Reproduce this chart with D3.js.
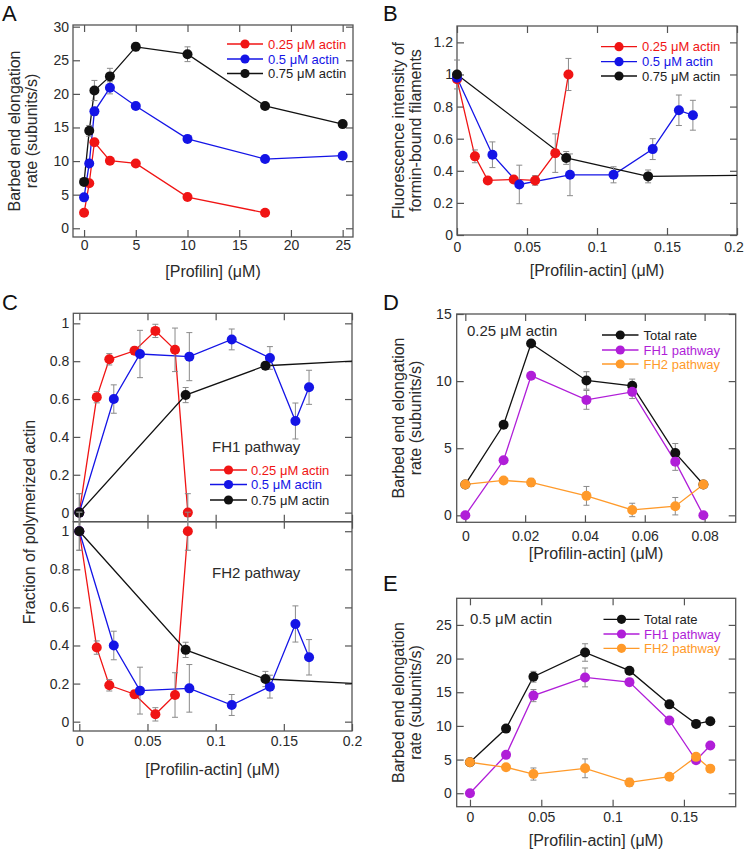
<!DOCTYPE html>
<html><head><meta charset="utf-8">
<script src="https://cdn.jsdelivr.net/npm/d3@7"></script>
<style>
body{margin:0;background:#fff}
svg{display:block}
text{font-family:"Liberation Sans",Arial,Helvetica,sans-serif}
</style>
</head><body>
<svg id="c" width="745" height="851"></svg>
<script>
// ---------------- DATA ----------------
const actinNames = ["0.25 \u03BCM actin", "0.5 \u03BCM actin", "0.75 \u03BCM actin"];
const pathwayNames = ["Total rate", "FH1 pathway", "FH2 pathway"];

// Panel A: rate vs [Profilin]
const aProfilin = [0, 0.5, 1, 2.5, 5, 10, 17.5, 25];
const aRate025 = [2.3, 6.7, 12.8, 10.05, 9.65, 4.65, 2.3];
const aErr025  = [0.2, 0.3, 0.3, 0.3, 0.3, 0.4, 0.2];
const aRate05  = [4.6, 9.65, 17.4, 20.9, 18.2, 13.3, 10.3, 10.8];
const aErr05   = [0.3, 0.4, 0.6, 0.9, 0.4, 0.4, 0.4, 0.3];
const aRate075 = [6.9, 14.5, 20.5, 22.6, 27.0, 25.9, 18.2, 15.5];
const aErr075  = [0.3, 0.8, 1.5, 1.2, 0.6, 1.1, 0.3, 0.5];

// [Profilin-actin] concentrations for each actin level
const pa025 = [0, 0.0128, 0.022, 0.0405, 0.0558, 0.0702, 0.0796];
const pa05  = [0, 0.0253, 0.0445, 0.0807, 0.1118, 0.1398, 0.1585, 0.1685];
const pa075 = [0, 0.078, 0.1365];
const paFitEnd = 0.2;

// Panel B: fluorescence intensity of formin-bound filaments
const bInt025 = [0.97, 0.49, 0.34, 0.346, 0.34, 0.51, 1.0];
const bErr025 = [0.02, 0.04, 0.02, 0.02, 0.03, 0.12, 0.1];
const bInt05  = [0.98, 0.50, 0.315, 0.375, 0.375, 0.535, 0.777, 0.746];
const bErr05  = [0.02, 0.08, 0.12, 0.13, 0.05, 0.065, 0.095, 0.093];
const bInt075 = [1.0, 0.48, 0.365];
const bErr075 = [0.09, 0.04, 0.04];
const bFit075End = 0.372;

// Panel C upper: FH1 pathway fraction
const cFH1_025 = [0, 0.61, 0.81, 0.855, 0.96, 0.86, 0];
const cFH1e025 = [0.1, 0.03, 0.03, 0.02, 0.035, 0.115, 0.1];
const cFH1_05  = [0, 0.60, 0.838, 0.824, 0.915, 0.817, 0.484, 0.662];
const cFH1e05  = [0, 0.075, 0.125, 0.127, 0.055, 0.06, 0.095, 0.09];
const cFH1_075 = [0, 0.621, 0.776];
const cFH1e075 = [0.1, 0.04, 0.02];
const cFH1Fit075End = 0.80;

// Panel C lower: FH2 pathway fraction
const cFH2_025 = [1, 0.389, 0.191, 0.144, 0.0385, 0.14, 1.0];
const cFH2e025 = [0.1, 0.035, 0.03, 0.02, 0.035, 0.117, 0.1];
const cFH2_05  = [1, 0.40, 0.163, 0.175, 0.0876, 0.184, 0.513, 0.338];
const cFH2e05  = [0, 0.075, 0.123, 0.125, 0.055, 0.06, 0.095, 0.093];
const cFH2_075 = [1, 0.377, 0.224];
const cFH2e075 = [0.1, 0.04, 0.04];
const cFH2Fit075End = 0.201;

// Panel D: 0.25 uM actin
const dTotal = [2.3, 6.75, 12.8, 10.05, 9.65, 4.65, 2.3];
const dTotalE = [0, 0, 0, 0.65, 0.5, 0.7, 0];
const dFH1 = [0, 4.1, 10.4, 8.6, 9.2, 4.0, 0];
const dFH1E = [0, 0, 0, 0.7, 0.5, 0.65, 0];
const dFH2 = [2.3, 2.6, 2.45, 1.45, 0.4, 0.68, 2.3];
const dFH2E = [0, 0, 0.3, 0.7, 0.5, 0.65, 0];

// Panel E: 0.5 uM actin
const eTotal = [4.6, 9.6, 17.3, 20.9, 18.2, 13.2, 10.3, 10.7];
const eTotalE = [0, 0, 0.8, 1.3, 0, 0, 0, 0];
const eFH1 = [0, 5.7, 14.5, 17.2, 16.5, 10.8, 4.9, 7.1];
const eFH1E = [0, 0, 0.9, 1.4, 0, 0, 0, 0];
const eFH2 = [4.6, 3.85, 2.85, 3.7, 1.6, 2.45, 5.4, 3.65];
const eFH2E = [0, 0, 0.9, 1.4, 0.6, 0, 0, 0];

// Tick values
const aXTicks = [0, 5, 10, 15, 20, 25];
const aYTicks = [0, 5, 10, 15, 20, 25, 30];
const bXTicks = [0, 0.05, 0.1, 0.15, 0.2];
const bYTicks = [0, 0.2, 0.4, 0.6, 0.8, 1, 1.2];
const cXTicks = [0, 0.05, 0.1, 0.15, 0.2];
const cYTicks = [0, 0.2, 0.4, 0.6, 0.8, 1];
const dXTicks = [0, 0.02, 0.04, 0.06, 0.08];
const dYTicks = [0, 5, 10, 15];
const eXTicks = [0, 0.05, 0.1, 0.15];
const eYTicks = [0, 5, 10, 15, 20, 25];

// ---------------- STYLE ----------------
const RED = "#f01414", BLUE = "#1414e6", BLACK = "#111111", MAG = "#b01ed8", ORA = "#ff9a2a";
const FRAME = "#555", ERR = "#8a8a8a", TXT = "#2a2a2a";
const svg = d3.select("#c");
const fmt = d3.format("~g");

function mk(xs, ys, es, color, fitX, fitY) {
  const pts = ys.map((v, i) => ({x: xs[i], y: v, e: es[i]}));
  return {pts, color, fit: fitX != null ? {x: fitX, y: fitY} : null};
}

function drawAxes(g, x, y, p) {
  const tl = 7;
  const style = sel => {
    sel.select(".domain").remove();
    sel.selectAll(".tick line").attr("stroke", FRAME).attr("stroke-width", 1.2);
    sel.selectAll("text").attr("font-size", 14).attr("fill", TXT)
      .attr("font-family", '"Liberation Sans",Arial,sans-serif');
    sel.attr("font-family", null).attr("font-size", null);
  };
  const xb = d3.axisBottom(x).tickValues(p.xt).tickSizeInner(-tl).tickSizeOuter(0)
    .tickPadding(p.xpad).tickFormat(p.xlab === false ? "" : fmt);
  const xbg = g.append("g").attr("transform", `translate(0,${p.B})`).call(xb).call(style);
  if (p.lastShift) {
    xbg.selectAll(".tick text").filter((d, i, n) => i === n.length - 1).attr("dx", p.lastShift);
  }
  const xtop = d3.axisTop(x).tickValues(p.xt).tickSizeInner(-tl).tickSizeOuter(0).tickFormat("");
  g.append("g").attr("transform", `translate(0,${p.T})`).call(xtop).call(style);
  const yl = d3.axisLeft(y).tickValues(p.yt).tickSizeInner(-tl).tickSizeOuter(0)
    .tickPadding(p.ypad).tickFormat(fmt);
  g.append("g").attr("transform", `translate(${p.L},0)`).call(yl).call(style);
  const yr = d3.axisRight(y).tickValues(p.yt).tickSizeInner(-tl).tickSizeOuter(0).tickFormat("");
  g.append("g").attr("transform", `translate(${p.R},0)`).call(yr).call(style);
  g.append("rect").attr("x", p.L).attr("y", p.T).attr("width", p.R - p.L).attr("height", p.B - p.T)
    .attr("fill", "none").attr("stroke", FRAME).attr("stroke-width", 1.3);
}

function drawSeries(g, x, y, series, r) {
  const line = d3.line().x(d => x(d.x)).y(d => y(d.y));
  series.forEach(s => {
    const linePts = s.fit ? s.pts.concat([s.fit]) : s.pts;
    g.append("path").attr("d", line(linePts)).attr("fill", "none")
      .attr("stroke", s.color).attr("stroke-width", 1.3);
  });
  series.forEach(s => {
    s.pts.filter(d => d.e > 0).forEach(d => {
      const eg = g.append("g").attr("stroke", ERR).attr("stroke-width", 1);
      eg.append("line").attr("x1", x(d.x)).attr("x2", x(d.x)).attr("y1", y(d.y - d.e)).attr("y2", y(d.y + d.e));
      eg.append("line").attr("x1", x(d.x) - 3).attr("x2", x(d.x) + 3).attr("y1", y(d.y - d.e)).attr("y2", y(d.y - d.e));
      eg.append("line").attr("x1", x(d.x) - 3).attr("x2", x(d.x) + 3).attr("y1", y(d.y + d.e)).attr("y2", y(d.y + d.e));
    });
  });
  series.forEach(s => {
    g.selectAll(null).data(s.pts).enter().append("circle")
      .attr("cx", d => x(d.x)).attr("cy", d => y(d.y)).attr("r", r).attr("fill", s.color);
  });
}

function legend(g, x0, x1, tx, ys, names, colors, tcolors, fs) {
  names.forEach((n, i) => {
    g.append("line").attr("x1", x0).attr("x2", x1).attr("y1", ys[i]).attr("y2", ys[i])
      .attr("stroke", colors[i]).attr("stroke-width", 1.3);
    g.append("circle").attr("cx", (x0 + x1) / 2).attr("cy", ys[i]).attr("r", 4.6).attr("fill", colors[i]);
    g.append("text").attr("x", tx).attr("y", ys[i] + fs * 0.36).attr("font-size", fs)
      .attr("fill", tcolors[i]).text(n);
  });
}

function ylabel(g, xs, cy, lines) {
  lines.forEach((t, i) => {
    g.append("text").attr("transform", `translate(${xs[i]},${cy}) rotate(-90)`)
      .attr("text-anchor", "middle").attr("font-size", 16).attr("fill", TXT).text(t);
  });
}
function xlabel(g, cx, y, t) {
  g.append("text").attr("x", cx).attr("y", y).attr("text-anchor", "middle")
    .attr("font-size", 16).attr("fill", TXT).text(t);
}
function letter(t, x, y) {
  svg.append("text").attr("x", x).attr("y", y).attr("font-size", 22).attr("fill", "#111").text(t);
}

const actinColors = [RED, BLUE, BLACK];
const actinText = [RED, BLUE, "#222"];
const pathColors = [BLACK, MAG, ORA];
const pathText = ["#222", MAG, ORA];

// ---------------- PANEL A ----------------
{
  const p = {L: 73, R: 353, T: 25, B: 237, xt: aXTicks, yt: aYTicks, xpad: 3, ypad: 4};
  const x = d3.scaleLinear().domain([-1.07, 26.0]).range([p.L, p.R]);
  const y = d3.scaleLinear().domain([-1.3, 30.25]).range([p.B, p.T]);
  const g = svg.append("g");
  drawAxes(g, x, y, p);
  drawSeries(g, x, y, [
    mk(aProfilin, aRate025, aErr025, RED),
    mk(aProfilin, aRate05, aErr05, BLUE),
    mk(aProfilin, aRate075, aErr075, BLACK)
  ], 5);
  legend(g, 227, 263, 268, [44, 59, 73.5], actinNames, actinColors, actinText, 13);
  ylabel(g, [20, 37], 131, ["Barbed end elongation", "rate (subunits/s)"]);
  xlabel(g, 213, 277, "[Profilin] (\u03BCM)");
  letter("A", 2, 20.5);
}

// ---------------- PANEL B ----------------
{
  const p = {L: 457, R: 737, T: 26, B: 235, xt: bXTicks, yt: bYTicks, xpad: 7, ypad: 4, lastShift: -3.5};
  const x = d3.scaleLinear().domain([0, 0.2]).range([p.L, p.R]);
  const y = d3.scaleLinear().domain([0, 1.302]).range([p.B, p.T]);
  const g = svg.append("g");
  drawAxes(g, x, y, p);
  drawSeries(g, x, y, [
    mk(pa025, bInt025, bErr025, RED),
    mk(pa05, bInt05, bErr05, BLUE),
    mk(pa075, bInt075, bErr075, BLACK, paFitEnd, bFit075End)
  ], 5);
  legend(g, 601, 637, 642, [46.7, 61.7, 76], actinNames, actinColors, actinText, 13);
  ylabel(g, [404, 421], 130.5, ["Fluorescence intensity of", "formin-bound filaments"]);
  xlabel(g, 597, 276, "[Profilin-actin] (\u03BCM)");
  letter("B", 383, 20.5);
}

// ---------------- PANEL C ----------------
{
  const xd = [-0.0044, 0.2];
  const up = {L: 73.3, R: 352, T: 313.3, B: 521.7, xt: cXTicks, yt: cYTicks, xpad: 5, ypad: 4, xlab: false};
  const lo = {L: 73.3, R: 352, T: 521.7, B: 731, xt: cXTicks, yt: cYTicks, xpad: 5, ypad: 4};
  const g = svg.append("g");
  const x = d3.scaleLinear().domain(xd).range([up.L, up.R]);
  const yU = d3.scaleLinear().domain([-0.048, 1.053]).range([up.B, up.T]);
  const yL = d3.scaleLinear().domain([-0.049, 1.05]).range([lo.B, lo.T]);
  drawAxes(g, x, yU, up);
  drawAxes(g, x, yL, lo);
  drawSeries(g, x, yU, [
    mk(pa025, cFH1_025, cFH1e025, RED),
    mk(pa05, cFH1_05, cFH1e05, BLUE),
    mk(pa075, cFH1_075, cFH1e075, BLACK, paFitEnd, cFH1Fit075End)
  ], 5);
  drawSeries(g, x, yL, [
    mk(pa025, cFH2_025, cFH2e025, RED),
    mk(pa05, cFH2_05, cFH2e05, BLUE),
    mk(pa075, cFH2_075, cFH2e075, BLACK, paFitEnd, cFH2Fit075End)
  ], 5);
  g.append("text").attr("x", 212).attr("y", 452).attr("font-size", 15).attr("fill", TXT).text("FH1 pathway");
  g.append("text").attr("x", 212).attr("y", 578).attr("font-size", 15).attr("fill", TXT).text("FH2 pathway");
  legend(g, 210, 247, 251, [470, 484.5, 500], actinNames, actinColors, actinText, 13);
  ylabel(g, [35], 522, ["Fraction of polymerized actin"]);
  xlabel(g, 212.5, 775, "[Profilin-actin] (\u03BCM)");
  letter("C", 2, 309.5);
}

// ---------------- PANEL D ----------------
{
  const p = {L: 456.7, R: 735.7, T: 314, B: 522.3, xt: dXTicks, yt: dYTicks, xpad: 9, ypad: 5};
  const x = d3.scaleLinear().domain([-0.00288, 0.0904]).range([p.L, p.R]);
  const y = d3.scaleLinear().domain([-0.52, 15]).range([p.B, p.T]);
  const g = svg.append("g");
  drawAxes(g, x, y, p);
  drawSeries(g, x, y, [
    mk(pa025, dTotal, dTotalE, BLACK),
    mk(pa025, dFH1, dFH1E, MAG),
    mk(pa025, dFH2, dFH2E, ORA)
  ], 5);
  legend(g, 602, 638.5, 643.5, [335, 350, 364], pathwayNames, pathColors, pathText, 13);
  g.append("text").attr("x", 467).attr("y", 336).attr("font-size", 15).attr("fill", TXT).text(actinNames[0]);
  ylabel(g, [404, 421], 418, ["Barbed end elongation", "rate (subunits/s)"]);
  xlabel(g, 596, 559, "[Profilin-actin] (\u03BCM)");
  letter("D", 383, 309.5);
}

// ---------------- PANEL E ----------------
{
  const p = {L: 456.7, R: 735.7, T: 598.3, B: 806.7, xt: eXTicks, yt: eYTicks, xpad: 5, ypad: 5};
  const x = d3.scaleLinear().domain([-0.0093, 0.1863]).range([p.L, p.R]);
  const y = d3.scaleLinear().domain([-2, 28.95]).range([p.B, p.T]);
  const g = svg.append("g");
  drawAxes(g, x, y, p);
  drawSeries(g, x, y, [
    mk(pa05, eTotal, eTotalE, BLACK),
    mk(pa05, eFH1, eFH1E, MAG),
    mk(pa05, eFH2, eFH2E, ORA)
  ], 5);
  legend(g, 603.5, 639.5, 644, [619.3, 634, 648.3], pathwayNames, pathColors, pathText, 13);
  g.append("text").attr("x", 470).attr("y", 624).attr("font-size", 15).attr("fill", TXT).text(actinNames[1]);
  ylabel(g, [404, 421], 702.5, ["Barbed end elongation", "rate (subunits/s)"]);
  xlabel(g, 596, 846, "[Profilin-actin] (\u03BCM)");
  letter("E", 383, 591);
}
</script>
</body></html>
